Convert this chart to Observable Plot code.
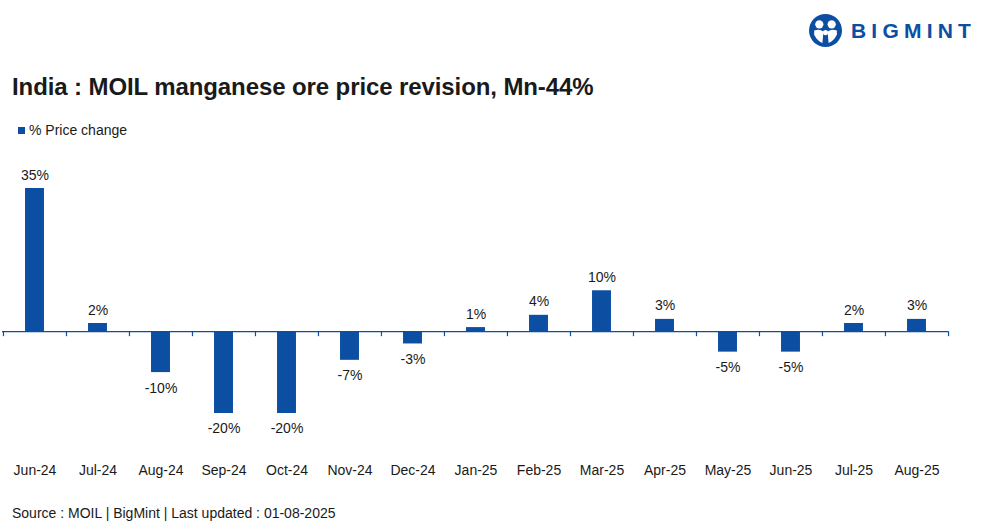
<!DOCTYPE html>
<html><head><meta charset="utf-8">
<script src="https://cdn.jsdelivr.net/npm/d3@7"></script>
<script src="https://cdn.jsdelivr.net/npm/@observablehq/plot@0.6"></script>
<style>
body{margin:0;width:984px;height:531px;background:#fff;position:relative;overflow:hidden;font-family:"Liberation Sans",Arial,sans-serif;color:#1a1a1a}
#title{position:absolute;left:12px;top:73px;font-size:24px;font-weight:bold;letter-spacing:-0.1px;white-space:nowrap}
#legend{position:absolute;left:18px;top:122px;font-size:14px;display:flex;align-items:center;white-space:nowrap}
#legend span.sw{display:inline-block;width:7px;height:7px;background:#0b4ea2;margin-right:4px}
#chart{position:absolute;left:0;top:150px}
#source{position:absolute;left:12px;top:505px;font-size:14px;white-space:nowrap}
#logo{position:absolute;left:809px;top:14px;display:flex;align-items:center}
#logo .txt{font-size:21px;font-weight:bold;color:#0b4ea2;letter-spacing:5.2px;margin-left:9px}
</style></head>
<body>
<div id="logo">
<svg width="33" height="33" viewBox="0 0 32 32">
<circle cx="16" cy="16" r="16" fill="#0b4ea2"/>
<circle cx="10" cy="10" r="4" fill="#fff"/>
<circle cx="22" cy="10" r="4" fill="#fff"/>
<path d="M5 16 Q10 14 14 17 L13 28 Q8 26 5 20 Z" fill="#fff"/>
<path d="M27 16 Q22 14 18 17 L19 28 Q24 26 27 20 Z" fill="#fff"/>
<circle cx="16" cy="18" r="2.5" fill="#fff"/>
</svg>
<span class="txt">BIGMINT</span>
</div>
<div id="title">India : MOIL manganese ore price revision, Mn-44%</div>
<div id="legend"><span class="sw"></span>% Price change</div>
<div id="chart"></div>
<div id="source">Source : MOIL | BigMint | Last updated : 01-08-2025</div>
<script>
const months = ["Jun-24","Jul-24","Aug-24","Sep-24","Oct-24","Nov-24","Dec-24","Jan-25","Feb-25","Mar-25","Apr-25","May-25","Jun-25","Jul-25","Aug-25"];
const priceChange = [35,2,-10,-20,-20,-7,-3,1,4,10,3,-5,-5,2,3];
const seriesName = "% Price change";

const data = months.map((m,i)=>({month:m, value:priceChange[i]}));
const W = 984, H = 340, mL = 2, mR = 36;
const bw = (W - mL - mR) / months.length;
const barColor = "#0b4ea2";
const tickLen = 5 / ((263-38)/55);

const chart = Plot.plot({
  width: W, height: H,
  marginLeft: mL, marginRight: mR, marginTop: 38, marginBottom: 77,
  style: {fontFamily: '"Liberation Sans", Arial, sans-serif', fontSize: "14px", color: "#1a1a1a", background: "transparent"},
  x: {type: "band", domain: months, padding: 0, axis: null},
  y: {domain: [-20, 35], axis: null},
  marks: [
    Plot.barY(data, {x: "month", y: "value", fill: barColor, insetLeft: (bw-19)/2, insetRight: (bw-19)/2}),
    Plot.ruleY([0], {stroke: barColor, strokeWidth: 1.2}),
    Plot.ruleX(months, {x: d=>d, y1: 0, y2: -tickLen, dx: -bw/2, stroke: barColor, strokeWidth: 1.2}),
    Plot.ruleX([months[months.length-1]], {x: d=>d, y1: 0, y2: -tickLen, dx: bw/2, stroke: barColor, strokeWidth: 1.2}),
    Plot.text(data.filter(d=>d.value>=0), {x: "month", y: "value", text: d=>d.value+"%", lineAnchor: "bottom", dy: -9, fill: "#1a1a1a"}),
    Plot.text(data.filter(d=>d.value<0), {x: "month", y: "value", text: d=>d.value+"%", lineAnchor: "top", dy: 10, fill: "#1a1a1a"}),
    Plot.text(data, {x: "month", text: "month", frameAnchor: "bottom", dy: 61, fill: "#1a1a1a"})
  ]
});
document.getElementById("chart").appendChild(chart);
</script>
</body></html>
